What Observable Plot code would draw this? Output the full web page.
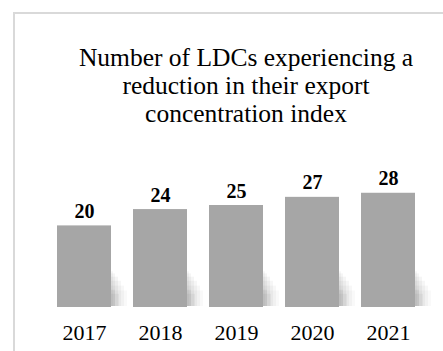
<!DOCTYPE html>
<html>
<head>
<meta charset="utf-8">
<script src="https://cdn.jsdelivr.net/npm/d3@7"></script>
<script src="https://cdn.jsdelivr.net/npm/@observablehq/plot@0.6"></script>
<style>
  html, body { margin: 0; padding: 0; background: #fff; overflow: hidden; }
  #wrap { position: relative; width: 443px; height: 351px; overflow: hidden; background: #fff; }
  .line { position: absolute; pointer-events: none; background: #d9d9d9; }
  #topline { left: 13px; top: 12px; width: 430px; height: 2px; }
  #leftline { left: 13px; top: 12px; width: 2px; height: 339px; }
  #title { position: absolute; left: 46px; width: 400px; top: 44px; text-align: center;
           font-family: "Liberation Serif", "Times New Roman", serif; font-size: 25.5px; line-height: 28px; color: #000; }
  #chart { position: absolute; left: 0; top: 0; }
</style>
</head>
<body>
<div id="wrap">
  <div id="chart"></div>
  <div class="line" id="topline"></div>
  <div class="line" id="leftline"></div>
  <div id="title">Number of LDCs experiencing a<br>reduction in their export<br>concentration index</div>
</div>
<script>
const years = ["2017", "2018", "2019", "2020", "2021"];
const counts = [20, 24, 25, 27, 28];

const data = years.map((y, i) => ({year: y, value: counts[i]}));

// soft shadow drawn as stacked translucent layers (style only)
const shadowLayers = [
  {dx: 2, h: 8.5, op: 0.035},
  {dx: 4, h: 8, op: 0.04},
  {dx: 7, h: 7.2, op: 0.04},
  {dx: 10, h: 6.2, op: 0.035},
  {dx: 13, h: 5, op: 0.03},
  {dx: 16, h: 3.8, op: 0.025},
  {dx: 4, h: 4, op: 0.04},
  {dx: 8, h: 3, op: 0.04}
];

const chart = Plot.plot({
  width: 443,
  height: 351,
  marginLeft: 32,
  marginRight: 4,
  marginBottom: 44,
  marginTop: 184.6,
  style: {background: "transparent", overflow: "visible", fontFamily: "'Liberation Serif', 'Times New Roman', serif"},
  x: {domain: years, padding: 0.29, label: null},
  y: {domain: [0, 30], axis: null},
  marks: [
    ...shadowLayers.map(l => Plot.barY(data, {x: "year", y: () => l.h, fill: "#000", fillOpacity: l.op, dx: l.dx, dy: -1})),
    Plot.barY(data, {x: "year", y: "value", fill: "#a6a6a6"}),
    Plot.text(data, {x: "year", y: "value", text: d => String(d.value), dy: -8, lineAnchor: "bottom",
      fontSize: 20, fontWeight: "bold", fill: "#000"}),
    Plot.axisX({tickSize: 0, tickPadding: 17, fontSize: 22, color: "#000", label: null})
  ]
});
document.getElementById("chart").appendChild(chart);
</script>
</body>
</html>
